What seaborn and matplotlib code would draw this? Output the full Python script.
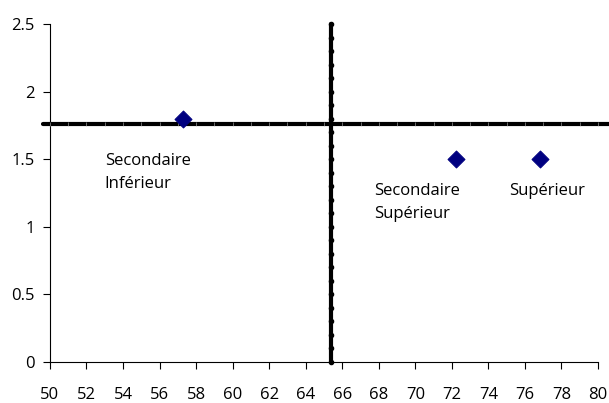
import matplotlib
matplotlib.use("Agg")
import matplotlib.pyplot as plt
import seaborn as sns
import pandas as pd
import numpy as np

categories = ["Secondaire\nInférieur", "Secondaire\nSupérieur", "Supérieur"]
x_vals = [57.3, 72.2, 76.8]
y_vals = [1.8, 1.5, 1.5]
x_mean = 65.4
y_mean = 1.76
x_ticks = list(range(50, 81, 2))
y_ticks = [0, 0.5, 1, 1.5, 2, 2.5]
y_tick_labels = ["0", "0.5", "1", "1.5", "2", "2.5"]

sns.set_style("white")
plt.rcParams['font.family'] = ['Open Sans', 'DejaVu Sans']
plt.rcParams['text.color'] = 'black'
plt.rcParams['xtick.color'] = 'black'
plt.rcParams['ytick.color'] = 'black'

fig = plt.figure(figsize=(6.09, 4.03), dpi=100)
ax = fig.add_axes([0.082, 0.1017, 0.9, 0.8387])

df = pd.DataFrame({"x": x_vals, "y": y_vals, "cat": categories})

# horizontal mean line
hx = np.arange(49.6, 80.7, 1.0)
ax.plot(hx, [y_mean] * len(hx), color="black", lw=3, clip_on=False, zorder=2)
ax.plot(np.arange(50, 81, 1), [y_mean] * 31, ls="none", marker="|", ms=2.5, mew=0.4,
        color="#bbbbbb", clip_on=False, zorder=3)
# vertical mean line
vy = np.round(np.arange(0, 2.51, 0.1), 2)
ax.plot([x_mean] * len(vy), vy, color="black", lw=3, marker="o", ms=3,
        clip_on=False, zorder=3)

sns.scatterplot(data=df, x="x", y="y", marker="D", s=75, color="#000080",
                edgecolor="#000080", ax=ax, zorder=4, clip_on=False)

# labels
fs = 12
ax.text(53.0, 1.545, categories[0], fontsize=fs, ha="left", va="top", linespacing=1.6)
ax.text(67.75, 1.325, categories[1], fontsize=fs, ha="left", va="top", linespacing=1.6)
ax.text(75.15, 1.325, categories[2], fontsize=fs, ha="left", va="top", linespacing=1.6)

ax.set_xlim(50, 80)
ax.set_ylim(0, 2.5)
ax.set_xticks(x_ticks)
ax.set_xticklabels([str(t) for t in x_ticks], fontsize=fs)
ax.set_yticks(y_ticks)
ax.set_yticklabels(y_tick_labels, fontsize=fs)
ax.set_xlabel("")
ax.set_ylabel("")
for s in ["top", "right"]:
    ax.spines[s].set_visible(False)
for s in ["left", "bottom"]:
    ax.spines[s].set_color("black")
    ax.spines[s].set_linewidth(0.8)
ax.tick_params(axis="x", direction="out", length=5, width=0.8, pad=13, color="black")
ax.tick_params(axis="y", direction="out", length=5, width=0.8, pad=6, color="black")
ax.tick_params(axis="both", bottom=True, left=True)

fig.savefig("out.png", dpi=100)
